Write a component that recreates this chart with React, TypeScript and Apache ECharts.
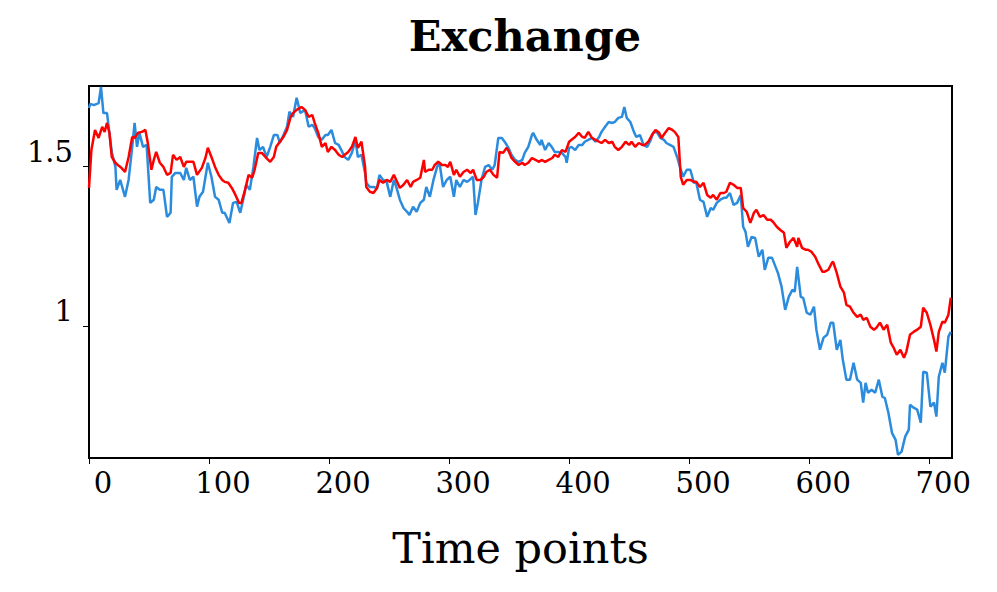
import React, { useEffect, useRef } from "react";
import * as echarts from "echarts";

const blueTimes = [0,1,4,8,10,12,15,16,19,22,23,26,30,33,36,38,40,42,45,48,51,54,56,59,62,65,68,69,72,76,79,81,84,87,90,92,95,99,102,105,108,111,113,117,120,123,126,129,131,134,137,140,142,145,148,151,154,157,159,162,165,167,170,173,176,180,183,186,188,191,194,197,199,202,205,208,211,213,216,219,222,224,227,230,231,234,237,240,242,245,248,251,254,256,259,262,265,267,270,273,276,279,281,284,287,290,292,295,298,301,304,306,309,312,315,317,320,322,324,327,330,333,336,338,341,344,347,349,352,355,358,361,363,366,369,370,373,376,377,380,383,386,388,391,394,397,398,400,402,405,408,411,413,416,419,422,425,427,430,433,436,438,441,444,446,448,451,454,456,459,462,465,468,470,473,476,479,481,484,487,490,493,495,498,501,504,506,509,512,515,518,520,523,526,529,531,534,537,540,543,545,547,549,552,555,558,561,563,566,569,572,574,577,580,583,586,588,590,593,595,598,601,604,606,609,612,615,618,620,623,626,628,631,634,637,640,643,645,647,649,652,655,658,661,663,666,669,672,674,677,680,683,684,687,690,693,695,698,701,704,706,708,711,713,716,718];
const blueValues = [1.684,1.697,1.693,1.699,1.750,1.668,1.668,1.637,1.545,1.499,1.427,1.458,1.405,1.458,1.562,1.637,1.562,1.606,1.562,1.568,1.386,1.396,1.436,1.427,1.427,1.342,1.355,1.468,1.480,1.480,1.458,1.496,1.458,1.468,1.374,1.405,1.421,1.512,1.468,1.405,1.396,1.355,1.355,1.323,1.386,1.389,1.355,1.405,1.443,1.427,1.499,1.590,1.552,1.562,1.530,1.562,1.599,1.599,1.574,1.599,1.625,1.672,1.656,1.716,1.668,1.678,1.625,1.631,1.621,1.593,1.584,1.599,1.599,1.615,1.574,1.568,1.546,1.530,1.521,1.543,1.584,1.530,1.537,1.480,1.449,1.436,1.436,1.433,1.474,1.458,1.452,1.405,1.458,1.436,1.396,1.370,1.358,1.348,1.374,1.358,1.386,1.396,1.436,1.405,1.458,1.499,1.512,1.436,1.458,1.468,1.405,1.458,1.436,1.458,1.452,1.458,1.468,1.348,1.386,1.458,1.499,1.505,1.490,1.505,1.590,1.590,1.574,1.562,1.537,1.521,1.515,1.521,1.543,1.562,1.599,1.606,1.584,1.568,1.584,1.552,1.574,1.559,1.546,1.546,1.543,1.530,1.512,1.559,1.562,1.552,1.568,1.568,1.578,1.584,1.590,1.578,1.593,1.609,1.625,1.640,1.637,1.640,1.653,1.656,1.687,1.653,1.640,1.609,1.593,1.599,1.568,1.562,1.584,1.606,1.609,1.590,1.584,1.574,1.568,1.562,1.530,1.490,1.468,1.490,1.490,1.449,1.449,1.396,1.389,1.342,1.370,1.364,1.386,1.396,1.402,1.402,1.417,1.380,1.386,1.411,1.311,1.295,1.248,1.279,1.276,1.217,1.239,1.176,1.214,1.214,1.185,1.166,1.123,1.050,1.091,1.113,1.107,1.185,1.091,1.088,1.041,1.035,1.060,0.988,0.925,0.963,0.972,1.010,1.010,0.925,0.956,0.894,0.831,0.831,0.884,0.831,0.821,0.759,0.821,0.790,0.799,0.790,0.831,0.777,0.774,0.727,0.664,0.642,0.595,0.605,0.652,0.674,0.752,0.743,0.737,0.696,0.856,0.853,0.746,0.759,0.715,0.840,0.884,0.853,0.966,0.981];

const redTimes = [0,2,5,8,11,13,15,17,19,22,24,27,30,33,36,38,41,44,47,49,52,54,56,59,62,65,68,70,73,76,79,81,87,90,94,97,99,102,105,108,111,113,116,119,122,125,127,130,133,136,138,141,144,147,151,154,156,159,162,165,168,170,173,177,180,183,186,188,191,194,197,199,202,205,208,211,213,216,219,222,224,227,230,231,234,237,240,242,245,248,251,254,256,259,262,265,268,270,273,276,279,280,283,286,288,291,294,297,299,301,304,306,309,312,315,318,320,323,326,329,331,334,337,340,342,345,348,350,352,355,358,361,363,366,369,372,375,377,380,383,386,388,391,394,397,400,402,405,408,411,413,416,419,422,425,427,430,433,436,438,441,444,447,450,452,455,458,461,463,466,469,472,475,477,480,483,486,488,491,493,495,498,501,504,506,509,512,515,518,520,523,526,529,531,534,537,540,543,545,548,551,554,556,559,562,565,568,570,573,576,579,581,584,587,590,591,594,597,599,602,605,608,611,613,616,619,620,623,626,629,631,634,637,640,643,645,648,651,654,656,659,662,665,668,670,673,676,679,681,684,687,690,693,695,698,701,704,706,708,711,713,716,718];
const redValues = [1.433,1.552,1.615,1.590,1.625,1.609,1.637,1.606,1.530,1.512,1.505,1.496,1.483,1.530,1.593,1.590,1.606,1.609,1.615,1.574,1.490,1.521,1.546,1.512,1.499,1.474,1.480,1.537,1.521,1.530,1.499,1.515,1.515,1.474,1.496,1.527,1.559,1.530,1.499,1.474,1.458,1.452,1.449,1.433,1.411,1.386,1.386,1.427,1.474,1.465,1.490,1.543,1.543,1.530,1.515,1.530,1.562,1.578,1.593,1.615,1.656,1.668,1.678,1.687,1.678,1.656,1.662,1.637,1.606,1.562,1.574,1.546,1.562,1.552,1.537,1.530,1.537,1.546,1.562,1.593,1.559,1.578,1.499,1.436,1.421,1.417,1.433,1.458,1.449,1.458,1.452,1.474,1.458,1.433,1.443,1.458,1.436,1.452,1.458,1.465,1.521,1.483,1.490,1.490,1.505,1.515,1.505,1.505,1.499,1.515,1.474,1.490,1.468,1.483,1.490,1.480,1.490,1.458,1.458,1.468,1.483,1.490,1.474,1.465,1.546,1.543,1.559,1.546,1.527,1.515,1.505,1.512,1.505,1.512,1.527,1.521,1.515,1.521,1.515,1.521,1.527,1.537,1.530,1.552,1.546,1.578,1.584,1.593,1.606,1.593,1.590,1.609,1.590,1.584,1.578,1.574,1.584,1.574,1.578,1.562,1.552,1.562,1.578,1.568,1.578,1.562,1.574,1.568,1.568,1.578,1.599,1.615,1.606,1.590,1.606,1.621,1.615,1.609,1.593,1.468,1.443,1.458,1.458,1.452,1.452,1.436,1.449,1.411,1.402,1.411,1.396,1.417,1.417,1.421,1.449,1.443,1.433,1.433,1.370,1.358,1.323,1.355,1.364,1.342,1.348,1.333,1.333,1.326,1.311,1.301,1.292,1.245,1.264,1.276,1.248,1.276,1.245,1.239,1.239,1.232,1.217,1.192,1.170,1.170,1.176,1.198,1.201,1.166,1.123,1.104,1.066,1.060,1.041,1.028,1.035,1.019,1.025,0.997,0.988,0.994,1.010,0.988,1.003,0.947,0.934,0.909,0.925,0.900,0.919,0.972,0.981,0.988,0.997,1.057,1.041,1.003,0.956,0.919,0.981,1.013,1.010,1.035,1.088];

const xTicks = [0, 100, 200, 300, 400, 500, 600, 700];
const yTicks = [1, 1.5];

const FONT = "DejaVu Serif";

export default function App() {
  const ref = useRef<HTMLDivElement>(null);
  useEffect(() => {
    document.body.style.margin = "0";
    if (!ref.current) return;
    const chart = echarts.init(ref.current, null, { renderer: "svg" });
    const blue = blueTimes.map((t, i) => [t, blueValues[i]]);
    const red = redTimes.map((t, i) => [t, redValues[i]]);
    chart.setOption({
      animation: false,
      backgroundColor: "#ffffff",
      title: {
        text: "Exchange",
        left: 520,
        top: 9,
        textAlign: "center",
        textStyle: { fontFamily: FONT, fontWeight: "bold", fontSize: 43, color: "#000" },
      },
      grid: {
        left: 89,
        right: 45,
        top: 86,
        bottom: 134,
        show: true,
        borderColor: "#000",
        borderWidth: 2,
        backgroundColor: "transparent",
      },
      xAxis: {
        type: "value",
        min: 0,
        max: 719,
        name: "Time points",
        nameLocation: "middle",
        nameGap: 68,
        nameTextStyle: { fontFamily: FONT, fontSize: 43, color: "#000" },
        axisLine: { show: true, lineStyle: { color: "#000", width: 2 } },
        axisTick: { show: true, customValues: xTicks, length: 6, lineStyle: { color: "#000", width: 1 } },
        axisLabel: {
          customValues: xTicks,
          fontFamily: FONT,
          fontSize: 29,
          color: "#000",
          margin: 10,
          padding: [0, 0, 0, 28],
        },
        splitLine: { show: false },
      },
      yAxis: {
        type: "value",
        min: 0.585,
        max: 1.753,
        axisLine: { show: true, lineStyle: { color: "#000", width: 2 } },
        axisTick: { show: true, customValues: yTicks, length: 6, lineStyle: { color: "#000", width: 1 } },
        axisLabel: {
          customValues: yTicks,
          fontFamily: FONT,
          fontSize: 29,
          color: "#000",
          margin: 16,
          verticalAlign: "bottom",
          lineHeight: 29,
        },
        splitLine: { show: false },
      },
      series: [
        {
          name: "Ground truth",
          type: "line",
          data: blue,
          showSymbol: false,
          lineStyle: { color: "#2b8bdc", width: 2.5 },
          itemStyle: { color: "#2b8bdc" },
        },
        {
          name: "Prediction",
          type: "line",
          data: red,
          showSymbol: false,
          lineStyle: { color: "#ff0000", width: 2.5 },
          itemStyle: { color: "#ff0000" },
        },
      ],
    });
    return () => chart.dispose();
  }, []);
  return <div ref={ref} style={{ position: "absolute", left: 0, top: 0, width: 997, height: 592 }} />;
}
